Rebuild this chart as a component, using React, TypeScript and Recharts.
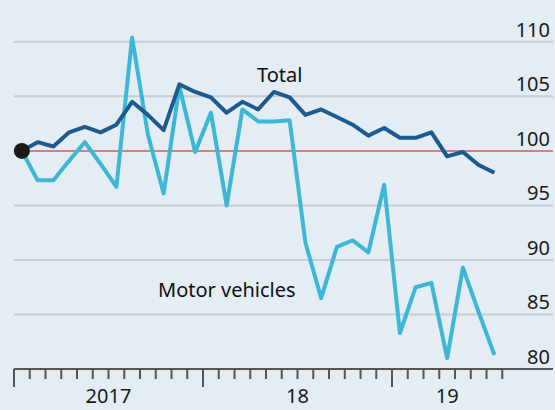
import React from 'react';
import {
  LineChart,
  Line,
  XAxis,
  YAxis,
  CartesianGrid,
  ReferenceLine,
  ReferenceDot,
  Customized,
} from 'recharts';

// monthly, Jan 2017 - Jul 2019, index 100 = Jan 2017
const months = [
  'Jan 17', 'Feb 17', 'Mar 17', 'Apr 17', 'May 17', 'Jun 17', 'Jul 17', 'Aug 17', 'Sep 17', 'Oct 17', 'Nov 17', 'Dec 17',
  'Jan 18', 'Feb 18', 'Mar 18', 'Apr 18', 'May 18', 'Jun 18', 'Jul 18', 'Aug 18', 'Sep 18', 'Oct 18', 'Nov 18', 'Dec 18',
  'Jan 19', 'Feb 19', 'Mar 19', 'Apr 19', 'May 19', 'Jun 19', 'Jul 19',
];

const total = [
  100, 100.8, 100.4, 101.7, 102.2, 101.7, 102.4, 104.5, 103.3, 101.9, 106.1, 105.4,
  104.9, 103.5, 104.5, 103.8, 105.4, 104.9, 103.3, 103.8, 103.1, 102.4, 101.4, 102.1,
  101.2, 101.2, 101.7, 99.5, 99.9, 98.7, 98.0,
];

const motorVehicles = [
  100, 97.3, 97.3, 99.1, 100.8, 98.8, 96.7, 110.4, 101.5, 96.1, 105.9, 99.9,
  103.5, 95.0, 103.8, 102.7, 102.7, 102.8, 91.6, 86.5, 91.2, 91.8, 90.7, 96.9,
  83.3, 87.5, 87.9, 81.0, 89.3, 85.2, 81.3,
];

const yTicks = [80, 85, 90, 95, 100, 105, 110];
const gridValues = [85, 90, 95, 105, 110];
const monthTicks = Array.from({ length: 32 }, (_, i) => i);
const yearLabels = [
  { pos: 6, label: '2017' },
  { pos: 18, label: '18' },
  { pos: 27.5, label: '19' },
];

const data = months.map((m, i) => ({
  month: m,
  x: i + 0.5,
  total: total[i],
  motor: motorVehicles[i],
}));

const BG = '#e4ecf4';
const FONT = '"Noto Sans", sans-serif';

if (typeof document !== 'undefined') {
  document.body.style.margin = '0';
  document.body.style.background = BG;
}

const XTick = (props: any) => {
  const { x, y, payload } = props;
  const v = payload.value;
  const yl = yearLabels.find((l) => l.pos === v);
  const isInt = Number.isInteger(v);
  const long = v % 12 === 0;
  return (
    <g>
      {isInt && (
        <line x1={x} x2={x} y1={y} y2={y + (long ? 18 : 10)} stroke="#555" strokeWidth={2} />
      )}
      {yl && (
        <text x={x} y={y + 34} textAnchor="middle" fontSize={20} fontFamily={FONT} fill="#1a1a1a">
          {yl.label}
        </text>
      )}
    </g>
  );
};

const YTick = (props: any) => {
  const { y, payload } = props;
  return (
    <text x={550} y={y - 5} textAnchor="end" fontSize={20} fontFamily={FONT} fill="#1a1a1a">
      {payload.value}
    </text>
  );
};

const Notes = () => (
  <g fontFamily={FONT} fontSize={20} fill="#111">
    <text x={257} y={82}>Total</text>
    <text x={158} y={297}>Motor vehicles</text>
  </g>
);

export default function App() {
  return (
    <div style={{ width: 555, height: 410, background: BG }}>
      <LineChart width={555} height={410} data={data} margin={{ top: 20, right: 1, left: 14, bottom: 40 }}>
        <CartesianGrid vertical={false} horizontalValues={gridValues} stroke="#c6cdd4" strokeWidth={2} />
        <XAxis
          dataKey="x"
          type="number"
          domain={[0, 34.22]}
          ticks={[...monthTicks, 27.5]}
          interval={0}
          tick={<XTick />}
          tickLine={false}
          tickSize={0}
          tickMargin={0}
          height={1}
          axisLine={{ stroke: '#555', strokeWidth: 2 }}
          allowDataOverflow
        />
        <YAxis
          orientation="right"
          width={1}
          domain={[80, 112]}
          ticks={yTicks}
          interval={0}
          tick={<YTick />}
          tickLine={false}
          axisLine={false}
          allowDataOverflow
        />
        <ReferenceLine y={100} stroke="#dd7b80" strokeWidth={2} />
        <Line
          type="linear"
          dataKey="motor"
          stroke="#3db7d6"
          strokeWidth={4}
          strokeLinejoin="round"
          dot={false}
          isAnimationActive={false}
        />
        <Line
          type="linear"
          dataKey="total"
          stroke="#1b5b8f"
          strokeWidth={4}
          strokeLinejoin="round"
          dot={false}
          isAnimationActive={false}
        />
        <ReferenceDot x={0.5} y={100} r={8} fill="#1a1a1a" stroke="none" />
        <Customized component={Notes} />
      </LineChart>
    </div>
  );
}
